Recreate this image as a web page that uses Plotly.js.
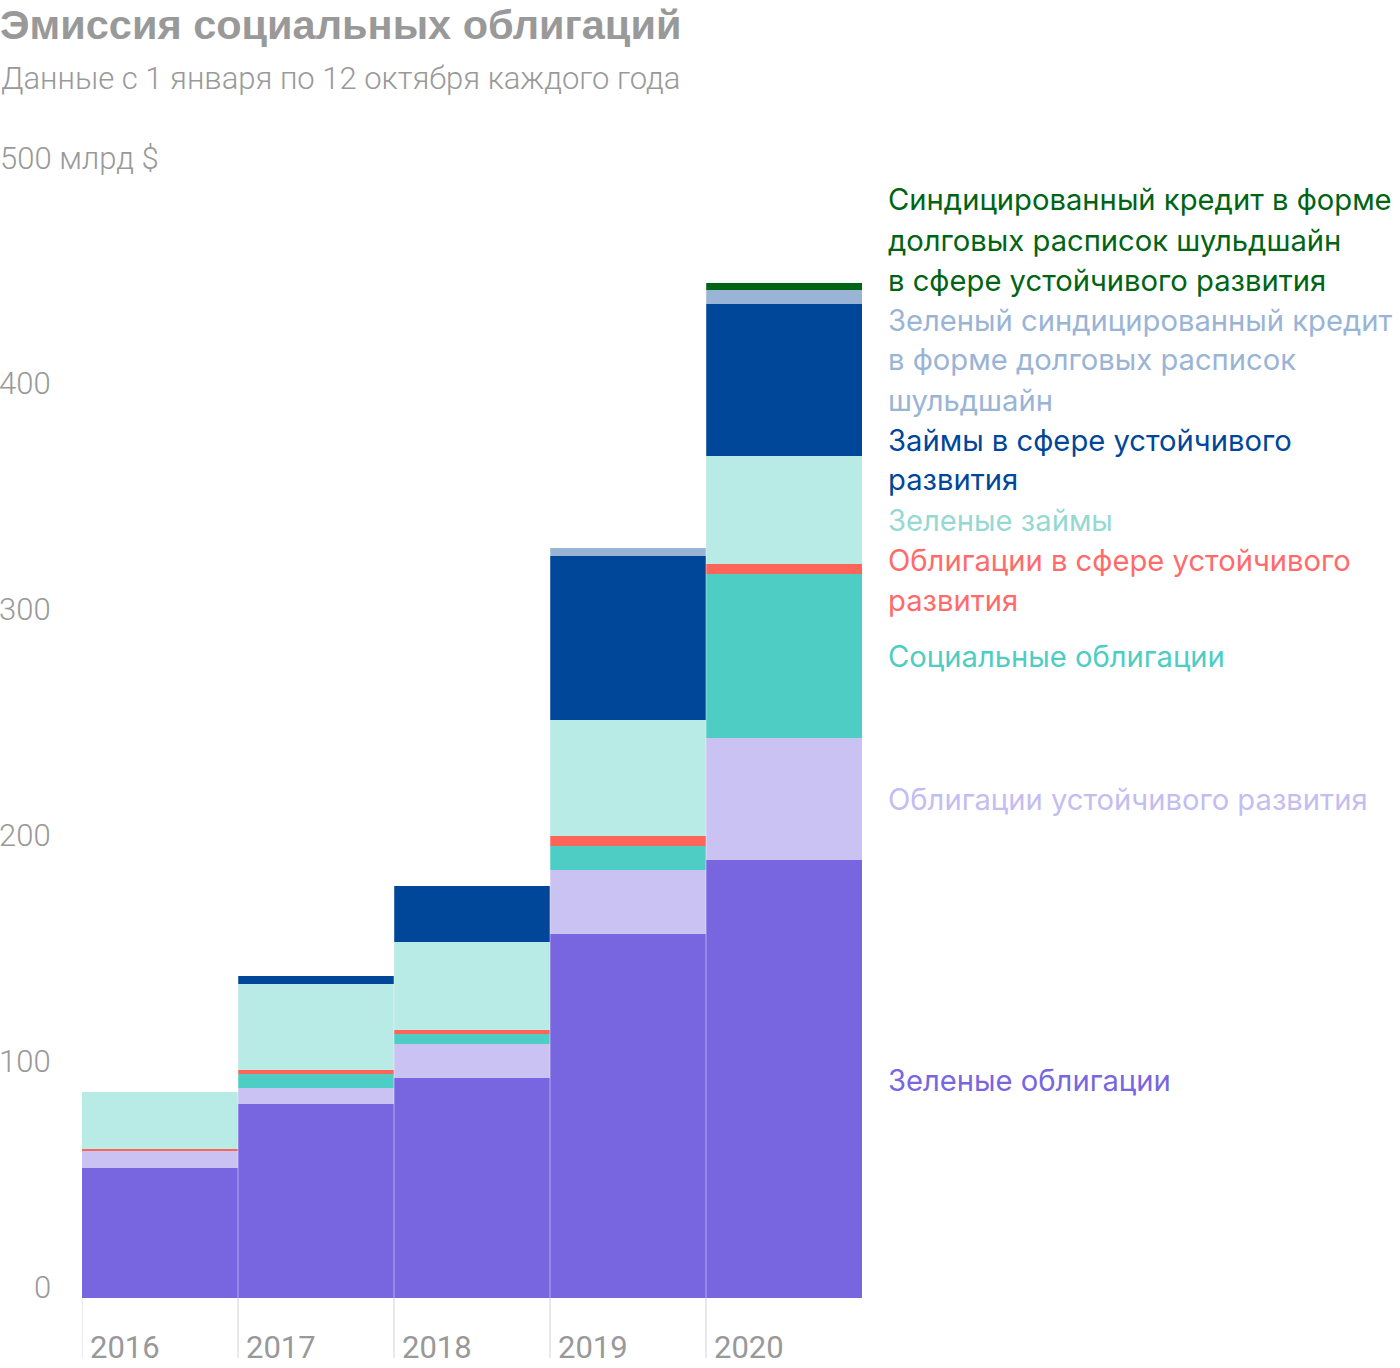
<!DOCTYPE html>
<html>
<head>
<meta charset="utf-8">
<script src="https://cdn.plot.ly/plotly-3.0.1.min.js"></script>
<style>
  html, body { margin: 0; padding: 0; background: #ffffff; }
  #chart { width: 1400px; height: 1368px; }
</style>
</head>
<body>
<div id="chart"></div>
<script>
// ---------- DATA ----------
const years = ['2016', '2017', '2018', '2019', '2020'];

const seriesNames = [
  'Зеленые облигации',
  'Облигации устойчивого развития',
  'Социальные облигации',
  'Облигации в сфере устойчивого\nразвития',
  'Зеленые займы',
  'Займы в сфере устойчивого\nразвития',
  'Зеленый синдицированный кредит\nв форме долговых расписок\nшульдшайн',
  'Синдицированный кредит в форме\nдолговых расписок шульдшайн\nв сфере устойчивого развития'
];

const greenBonds        = [57.7, 86.0, 97.5, 161.3, 194.1];
const sustBonds         = [7.2, 7.2, 15.0, 28.3, 54.0];
const socialBonds       = [0, 6.0, 4.4, 10.6, 72.7];
const sustLinkedBonds   = [0.9, 1.8, 1.8, 4.4, 4.4];
const greenLoans        = [25.5, 38.1, 39.0, 51.4, 47.9];
const sustLoans         = [0, 3.6, 24.8, 72.7, 67.3];
const greenSchuldschein = [0, 0, 0, 3.5, 6.2];
const sustSchuldschein  = [0, 0, 0, 0, 2.7];

const yTickValues = [0, 100, 200, 300, 400, 500];
const yTickLabels = ['0', '100', '200', '300', '400', '500 млрд $'];

const titleText = 'Эмиссия социальных облигаций';
const subtitleText = 'Данные с 1 января по 12 октября каждого года';

// ---------- STYLE ----------
const barColors  = ['#7766E0', '#C9C2F3', '#4ECDC4', '#FF6459', '#B8EAE6', '#004699', '#9AB4D6', '#006414'];
const textColors = ['#7766E0', '#C4BDF1', '#4ECDC4', '#FF6B6B', '#96D8D2', '#004699', '#9AB4D6', '#006414'];
const labelTopPx = [1080, 800, 656, 560, 520, 440, 320, 200]; // first-line centre, px
const lineStep = 40;

const W = 1400, H = 1368;
const plotL = 82, plotR = 862, plotT = 169, plotB = 1298;
const px2x = px => (px - plotL) / (plotR - plotL);
const py2y = py => (plotB - py) / (plotB - plotT);

const seriesValues = [greenBonds, sustBonds, socialBonds, sustLinkedBonds,
                      greenLoans, sustLoans, greenSchuldschein, sustSchuldschein];

const traces = seriesValues.map((vals, i) => ({
  type: 'bar',
  x: years,
  y: vals,
  name: seriesNames[i].replace(/\n/g, ' '),
  marker: { color: barColors[i], line: { width: 0 } },
  hoverinfo: 'x+y+name'
}));

const annotations = [];
const greyFont = { family: 'Roboto, sans-serif', size: 31, weight: 300, color: '#999999' };

// subtitle
annotations.push({
  xref: 'paper', yref: 'paper', x: px2x(-1), y: py2y(79),
  xanchor: 'left', yanchor: 'middle', showarrow: false,
  text: subtitleText, font: greyFont
});

// y tick labels (drawn just above their value)
yTickValues.forEach((v, i) => {
  const isTop = i === yTickValues.length - 1;
  annotations.push({
    xref: 'paper', yref: 'y',
    x: isTop ? px2x(-2) : px2x(53), y: v, yshift: 11,
    xanchor: isTop ? 'left' : 'right', yanchor: 'middle', showarrow: false,
    text: yTickLabels[i], font: greyFont
  });
});

// year labels
years.forEach((yr, i) => {
  annotations.push({
    xref: 'x', yref: 'paper', x: i - 0.5, xshift: 6, y: py2y(1347),
    xanchor: 'left', yanchor: 'middle', showarrow: false,
    text: yr, font: { family: 'Roboto, sans-serif', size: 31, color: '#999999' }
  });
});

// direct series labels
seriesNames.forEach((nm, i) => {
  nm.split('\n').forEach((line, j) => {
    annotations.push({
      xref: 'paper', yref: 'paper',
      x: px2x(886), y: py2y(labelTopPx[i] + j * lineStep),
      xanchor: 'left', yanchor: 'middle', showarrow: false,
      text: line, font: { family: 'Inter, sans-serif', size: 29.2, color: textColors[i] }
    });
  });
});

const shapes = [];
years.forEach((yr, i) => {
  // grey tick below baseline
  shapes.push({
    type: 'line', xref: 'x', yref: 'paper',
    x0: i - 0.5, x1: i - 0.5, y0: 0, y1: py2y(1358),
    line: { color: '#E2E2E2', width: 1.5 }
  });
  if (i > 0) {
    shapes.push({
      type: 'line', xref: 'x', yref: 'paper', layer: 'above',
      x0: i - 0.5, x1: i - 0.5, y0: 0, y1: 1,
      line: { color: 'rgba(255,255,255,0.3)', width: 1.5 }
    });
  }
});

const layout = {
  width: W, height: H,
  margin: { l: plotL, r: W - plotR, t: plotT, b: H - plotB, pad: 0 },
  paper_bgcolor: '#ffffff', plot_bgcolor: '#ffffff',
  barmode: 'stack', bargap: 0,
  showlegend: false,
  title: {
    text: '<b>' + titleText + '</b>',
    xref: 'container', yref: 'container',
    x: 0, xanchor: 'left', y: 1 - 24 / H, yanchor: 'middle',
    pad: { l: 0, r: 0, t: 0, b: 0 },
    font: { family: '"Liberation Sans", Arial, sans-serif', size: 41.5, color: '#999999' }
  },
  xaxis: {
    type: 'category', range: [-0.5, 4.5],
    showticklabels: false, showgrid: false, zeroline: false, showline: false, ticks: ''
  },
  yaxis: {
    range: [0, 500], showticklabels: false, showgrid: false, zeroline: false, showline: false, ticks: ''
  },
  annotations: annotations,
  shapes: shapes
};

Plotly.newPlot('chart', traces, layout, { displayModeBar: false, staticPlot: true });
</script>
</body>
</html>
